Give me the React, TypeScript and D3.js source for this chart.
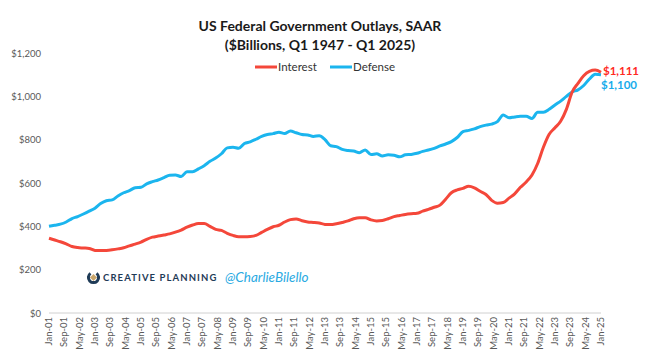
import { useEffect, useRef } from "react";
import * as d3 from "d3";

// quarterly values, Q1 2001 .. Q1 2025 ($ billions, SAAR)
const interest = [
  345, 337, 329, 319, 307, 302, 300, 298, 289, 288, 289, 292, 296, 301, 310, 318,
  327, 340, 350, 355, 360, 365, 373, 383, 396, 406, 413, 413, 400, 386, 381, 368,
  358, 352, 352, 353, 358, 372, 386, 398, 405, 420, 431, 434, 426, 420, 418, 415,
  409, 408, 412, 418, 425, 435, 440, 440, 430, 425, 427, 435, 445, 450, 455, 458,
  460, 470, 478, 488, 498, 525, 555, 568, 575, 585, 578, 562, 547, 520, 507, 510,
  530, 550, 580, 605, 637, 690, 765, 825, 855, 885, 940, 1020, 1060, 1095, 1115, 1121,
  1111,
];
const defense = [
  400, 405, 410, 420, 436, 445, 457, 470, 484, 505, 518, 522, 540, 555, 565, 578,
  580, 596, 606, 614, 625, 636, 637, 630, 652, 652, 665, 680, 700, 715, 735, 762,
  765, 760, 782, 790, 802, 815, 824, 828, 834, 828, 840, 832, 824, 822, 815, 818,
  800, 772, 768, 755, 750, 748, 740, 752, 731, 735, 725, 730, 728, 721, 730, 732,
  737, 746, 752, 760, 771, 780, 791, 810, 837, 843, 850, 860, 867, 872, 883, 914,
  901, 905, 908, 908, 898, 926, 926, 940, 960, 978, 1000, 1020, 1030, 1050, 1080, 1102,
  1100,
];
const yTicks = [0, 200, 400, 600, 800, 1000, 1200];
const tickLabels = [
  "Jan-01", "Sep-01", "May-02", "Jan-03", "Sep-03", "May-04", "Jan-05", "Sep-05",
  "May-06", "Jan-07", "Sep-07", "May-08", "Jan-09", "Sep-09", "May-10", "Jan-11",
  "Sep-11", "May-12", "Jan-13", "Sep-13", "May-14", "Jan-15", "Sep-15", "May-16",
  "Jan-17", "Sep-17", "May-18", "Jan-19", "Sep-19", "May-20", "Jan-21", "Sep-21",
  "May-22", "Jan-23", "Sep-23", "May-24", "Jan-25",
];

const RED = "#F4473A";
const BLUE = "#1BB5EE";
const FONT = "Lato, 'Open Sans', sans-serif";

export default function App() {
  const ref = useRef<SVGSVGElement>(null);

  useEffect(() => {
    if (!ref.current) return;
    const svg = d3.select(ref.current);
    svg.selectAll("*").remove();

    const start = new Date(2001, 0, 1);
    const dates = interest.map((_, i) => d3.timeMonth.offset(start, 3 * i));
    const parse = d3.timeParse("%b-%y");

    const x = d3.scaleTime().domain([start, new Date(2025, 0, 1)]).range([49, 601]);
    const y = d3.scaleLinear().domain([0, 1200]).range([313, 53]);

    // title
    const title = svg.append("g").attr("font-family", FONT).attr("font-weight", "bold")
      .attr("font-size", 14).attr("fill", "#1a1a1a").attr("text-anchor", "middle");
    title.append("text").attr("x", 320).attr("y", 31).text("US Federal Government Outlays, SAAR");
    title.append("text").attr("x", 320).attr("y", 50).text("($Billions, Q1 1947 - Q1 2025)");

    // y axis labels
    svg.append("g").selectAll("text").data(yTicks).join("text")
      .attr("x", 41).attr("y", (d) => y(d) + 3.5)
      .attr("text-anchor", "end").attr("font-family", FONT).attr("font-size", 9.5)
      .attr("fill", "#595959")
      .text((d) => d3.format("$,")(d));

    // baseline
    svg.append("line").attr("x1", 49).attr("x2", 601).attr("y1", y(0)).attr("y2", y(0))
      .attr("stroke", "#d0d0d0").attr("stroke-width", 1);

    // x labels
    svg.append("g").selectAll("text").data(tickLabels).join("text")
      .attr("transform", (d) => `translate(${x(parse(d)!) + 3},317) rotate(-90)`)
      .attr("text-anchor", "end").attr("font-family", FONT).attr("font-size", 9.5)
      .attr("fill", "#595959")
      .text((d) => d);

    // watermark
    const wm = svg.append("g");
    wm.append("path")
      .attr("d", d3.arc()({ innerRadius: 3.6, outerRadius: 6.6, startAngle: Math.PI * 0.2, endAngle: Math.PI * 1.8 }) as string)
      .attr("transform", "translate(93.5,277.5)").attr("fill", "#1F3B57");
    wm.append("path").attr("d", "M93.5,274 L97,277.5 L93.5,281 L90,277.5 Z").attr("fill", "#C9A66B");
    wm.append("text").attr("x", 103).attr("y", 281).attr("font-family", FONT)
      .attr("font-weight", "bold").attr("font-size", 9.5).attr("letter-spacing", 1.1)
      .attr("fill", "#1F3B57").text("CREATIVE PLANNING");
    wm.append("text").attr("x", 225).attr("y", 282).attr("font-family", FONT)
      .attr("font-style", "italic").attr("font-size", 13.5)
      .attr("fill", "#2AAAE2").text("@CharlieBilello");

    // lines
    const line = d3.line<number>()
      .x((_, i) => x(dates[i]))
      .y((d) => y(d))
      .curve(d3.curveMonotoneX);
    svg.append("path").datum(defense).attr("d", line).attr("fill", "none")
      .attr("stroke", BLUE).attr("stroke-width", 3).attr("stroke-linejoin", "round");
    svg.append("path").datum(interest).attr("d", line).attr("fill", "none")
      .attr("stroke", RED).attr("stroke-width", 3).attr("stroke-linejoin", "round");

    // end labels
    svg.append("text").attr("x", 603).attr("y", 74.5).attr("font-family", FONT)
      .attr("font-weight", "bold").attr("font-size", 11.5).attr("fill", "#FF2A1F")
      .text(d3.format("$,")(interest[interest.length - 1]));
    svg.append("text").attr("x", 601).attr("y", 88.5).attr("font-family", FONT)
      .attr("font-weight", "bold").attr("font-size", 11.5).attr("fill", "#18ACEB")
      .text(d3.format("$,")(defense[defense.length - 1]));

    // legend
    const legend = [
      { name: "Interest", color: RED, x: 255 },
      { name: "Defense", color: BLUE, x: 330 },
    ];
    const lg = svg.append("g").selectAll("g").data(legend).join("g")
      .attr("transform", (d) => `translate(${d.x},67)`);
    lg.append("line").attr("x1", 0).attr("x2", 22).attr("stroke", (d) => d.color).attr("stroke-width", 3);
    lg.append("text").attr("x", 23).attr("y", 4).attr("font-family", FONT).attr("font-size", 11.5)
      .attr("fill", "#333").text((d) => d.name);
  }, []);

  return (
    <svg
      ref={ref}
      width={665}
      height={364}
      style={{ position: "absolute", left: 0, top: 0, background: "#fff" }}
    />
  );
}
